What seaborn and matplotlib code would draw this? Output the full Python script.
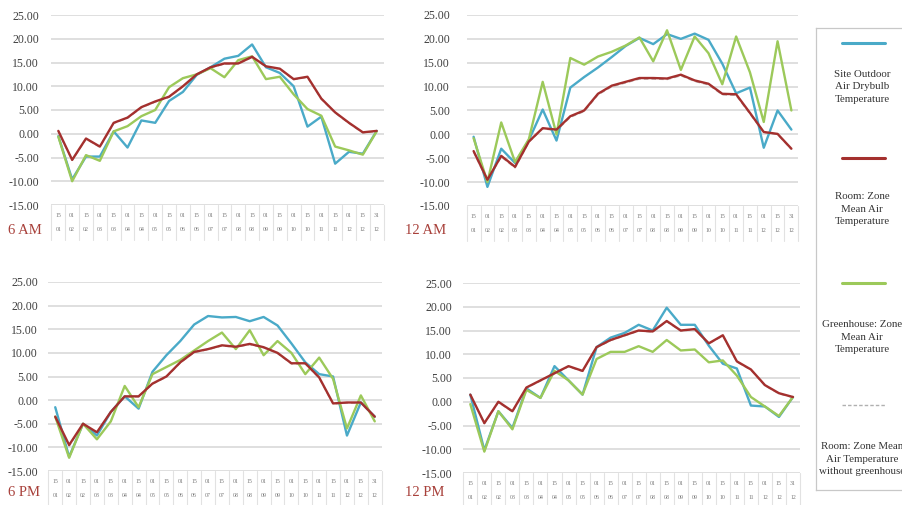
import matplotlib
matplotlib.use("Agg")
import matplotlib.pyplot as plt
import pandas as pd
import seaborn as sns

# Category axis: day / month of each sample
days = ["15", "01", "15", "01", "15", "01", "15", "01", "15", "01", "15", "01",
        "15", "01", "15", "01", "15", "01", "15", "01", "15", "01", "15", "31"]
months = ["01", "02", "02", "03", "03", "04", "04", "05", "05", "06", "06", "07",
          "07", "08", "08", "09", "09", "10", "10", "11", "11", "12", "12", "12"]

# 6 AM
outdoor_6am = [-0.5, -9.6, -4.8, -4.8, 0.5, -2.9, 2.8, 2.3, 6.9, 8.8, 12.4, 14.0,
               15.8, 16.4, 18.8, 14.0, 12.8, 10.0, 1.5, 3.6, -6.3, -3.8, -4.2, 0.6]
room_6am = [0.6, -5.5, -1.0, -2.7, 2.3, 3.4, 5.6, 6.8, 7.8, 10.0, 12.5, 14.0,
            14.8, 14.8, 16.2, 14.2, 13.7, 11.5, 12.0, 7.4, 4.5, 2.3, 0.3, 0.6]
greenhouse_6am = [-0.6, -10.0, -4.5, -5.7, 0.5, 1.6, 3.7, 5.0, 9.8, 11.7, 12.5, 13.8,
                  11.9, 15.5, 16.3, 11.5, 12.0, 8.3, 5.2, 3.8, -2.7, -3.5, -4.4, 0.5]
room_nogh_6am = [0.5, -5.6, -1.1, -2.8, 2.2, 3.3, 5.5, 6.7, 7.7, 9.9, 12.4, 13.9,
                 14.7, 14.7, 16.1, 14.1, 13.6, 11.4, 11.9, 7.3, 4.4, 2.2, 0.2, 0.5]

# 12 AM
outdoor_12am = [-0.5, -11.0, -3.0, -6.0, -1.2, 5.2, -1.3, 9.8, 12.0, 14.0, 16.2, 18.5,
                20.2, 18.9, 21.0, 20.0, 21.1, 19.8, 14.8, 8.6, 9.8, -2.8, 5.0, 1.0]
room_12am = [-3.5, -9.5, -4.5, -6.8, -1.5, 1.3, 1.0, 3.8, 5.0, 8.5, 10.2, 11.0,
             11.8, 11.8, 11.7, 12.5, 11.3, 10.6, 8.5, 8.4, 4.5, 0.5, 0.1, -3.0]
greenhouse_12am = [-0.8, -10.0, 2.5, -5.8, -1.0, 11.0, 0.0, 16.0, 14.6, 16.3, 17.3, 18.6,
                   20.3, 15.3, 21.8, 13.5, 20.5, 17.0, 10.5, 20.5, 13.0, 2.6, 19.5, 5.0]
room_nogh_12am = [-3.7, -9.7, -4.7, -7.0, -1.6, 1.2, 0.8, 3.6, 4.8, 8.3, 10.0, 10.8,
                  11.6, 11.6, 11.5, 12.3, 11.1, 10.4, 8.3, 8.2, 4.3, 0.4, 0.0, -3.1]

# 6 PM
outdoor_6pm = [-1.5, -12.0, -5.0, -7.5, -2.5, 0.8, -1.8, 6.0, 9.5, 12.5, 16.0, 17.8,
               17.5, 17.6, 16.7, 17.6, 15.8, 12.0, 8.0, 5.5, 5.0, -7.5, -0.5, -3.5]
room_6pm = [-3.5, -9.5, -5.0, -6.8, -2.5, 0.8, 0.8, 3.5, 5.0, 8.0, 10.2, 10.8,
            11.6, 11.3, 11.9, 11.2, 10.0, 7.8, 7.8, 4.8, -0.7, -0.5, -0.5, -3.5]
greenhouse_6pm = [-3.5, -12.2, -5.0, -8.3, -4.5, 3.0, -1.5, 5.5, 7.0, 8.5, 10.5, 12.5,
                  14.3, 10.8, 14.8, 9.5, 12.5, 10.0, 5.5, 9.0, 4.5, -6.0, 1.0, -4.5]
room_nogh_6pm = [-3.6, -9.7, -5.1, -6.9, -2.6, 0.7, 0.7, 3.4, 4.9, 7.9, 10.1, 10.7,
                 11.5, 11.2, 11.8, 11.1, 9.9, 7.7, 7.7, 4.7, -0.8, -0.6, -0.6, -3.6]

# 12 PM
outdoor_12pm = [1.5, -10.2, -2.0, -5.5, 2.8, 0.8, 7.5, 4.5, 1.5, 11.5, 13.5, 14.5,
                16.2, 15.0, 19.8, 16.2, 16.2, 11.8, 8.0, 7.0, -0.8, -1.0, -3.2, 1.0]
room_12pm = [1.5, -4.5, 0.0, -2.0, 3.0, 4.5, 6.0, 7.5, 6.5, 11.5, 13.0, 14.0,
             15.0, 14.8, 17.0, 15.0, 15.3, 12.3, 14.0, 8.5, 6.8, 3.5, 1.8, 1.0]
greenhouse_12pm = [-0.5, -10.5, -2.0, -5.8, 2.5, 0.8, 6.5, 4.5, 1.5, 9.0, 10.5, 10.5,
                   11.7, 10.5, 13.0, 10.8, 11.0, 8.3, 8.7, 5.5, 1.0, -1.0, -3.0, 1.0]
room_nogh_12pm = [1.4, -4.6, -0.1, -2.1, 2.9, 4.4, 5.9, 7.4, 6.4, 11.4, 12.9, 13.9,
                  14.9, 14.7, 16.9, 14.9, 15.2, 12.2, 13.9, 8.4, 6.7, 3.4, 1.7, 0.9]

series_names = ["Site Outdoor Air Drybulb Temperature",
                "Room: Zone Mean Air Temperature",
                "Greenhouse: Zone Mean Air Temperature",
                "Room: Zone Mean Air Temperature without greenhouse"]
legend_labels = ["Site Outdoor\nAir Drybulb\nTemperature",
                 "Room: Zone\nMean Air\nTemperature",
                 "Greenhouse: Zone\nMean Air\nTemperature",
                 "Room: Zone Mean\nAir Temperature\nwithout greenhouse"]
colors = {series_names[0]: "#4aaac8",
          series_names[1]: "#a4302e",
          series_names[2]: "#9cc95a",
          series_names[3]: "#b9a7a7"}

panels = [
    ("6 AM", outdoor_6am, room_6am, greenhouse_6am, room_nogh_6am),
    ("12 AM", outdoor_12am, room_12am, greenhouse_12am, room_nogh_12am),
    ("6 PM", outdoor_6pm, room_6pm, greenhouse_6pm, room_nogh_6pm),
    ("12 PM", outdoor_12pm, room_12pm, greenhouse_12pm, room_nogh_12pm),
]

sns.set_theme(style="white")
plt.rcParams["font.family"] = ["Liberation Serif", "DejaVu Serif"]
plt.rcParams["axes.unicode_minus"] = False

W, H = 902, 505
fig = plt.figure(figsize=(W / 100, H / 100), dpi=100)

# panel boxes in pixels: left, right, top (25), bottom (-15), y-label pad, title position
boxes = [
    (51.4, 383.6, 15, 205, 9, (8, 230)),
    (466.7, 798.3, 15, 206, 12, (405, 230)),
    (48.3, 381.7, 282, 471, 7.5, (8, 492)),
    (463.3, 800.0, 283, 473, 8, (405, 492)),
]

grid_color = "#d9d9d9"
yticks = [-15, -10, -5, 0, 5, 10, 15, 20, 25]
xlabels = [f"{d}\n{m}" for d, m in zip(days, months)]

for (title, outdoor, room, greenhouse, room_nogh), box in zip(panels, boxes):
    left, right, top, bottom, pad, (tx, ty) = box
    ax = fig.add_axes([left / W, 1 - bottom / H, (right - left) / W, (bottom - top) / H])
    n = len(outdoor)
    df = pd.DataFrame({
        "idx": list(range(n)) * 4,
        "value": outdoor + room + greenhouse + room_nogh,
        "series": sum([[s] * n for s in series_names], []),
    })
    for y in yticks:
        ax.axhline(y, color=grid_color, lw=1.2, zorder=0)
    sns.lineplot(data=df[df.series == series_names[3]], x="idx", y="value",
                 color=colors[series_names[3]], lw=1.1, linestyle=(0, (3, 2)),
                 ax=ax, legend=False, zorder=2)
    for s, z in [(series_names[0], 3), (series_names[2], 4), (series_names[1], 5)]:
        sns.lineplot(data=df[df.series == s], x="idx", y="value", color=colors[s],
                     lw=1.7, ax=ax, legend=False, zorder=z)
    ax.set_xlim(-0.5, n - 0.5)
    ax.set_ylim(-15, 25)
    ax.set_yticks(yticks)
    ax.set_yticklabels([f"{v:.2f}" for v in yticks])
    ax.set_xticks(range(n))
    ax.set_xticklabels(xlabels)
    for lab in ax.get_xticklabels():
        lab.set_linespacing(3.1)
    ax.tick_params(axis="x", length=0, pad=6, labelsize=4.2, labelcolor="#777777")
    ax.tick_params(axis="y", length=0, pad=pad, labelsize=8.5, labelcolor="#404040")
    ax.set_xlabel("")
    ax.set_ylabel("")
    for sp in ax.spines.values():
        sp.set_visible(False)
    # category table under the plot
    tbl_h = 35 / (bottom - top)
    xt = ax.get_xaxis_transform()
    for k in range(n + 1):
        ax.plot([k - 0.5, k - 0.5], [0, -tbl_h], transform=xt, color="#e2e2e2",
                lw=0.8, clip_on=False, zorder=1)
    fig.text(tx / W, 1 - ty / H, title, ha="left", va="center", fontsize=10.5,
             color="#a8403a")

# legend panel on the right
lax = fig.add_axes([816 / W, 1 - 490 / H, 100 / W, 462 / H])
lax.set_xlim(816, 916)
lax.set_ylim(490, 28)
lax.set_xticks([])
lax.set_yticks([])
lax.set_facecolor("white")
for sp in lax.spines.values():
    sp.set_color("#c8c8c8")
    sp.set_linewidth(0.9)
entries = [(43, 87), (158, 209), (283, 337), (405, 459)]
for s, lab, (ly, tyy) in zip(series_names, legend_labels, entries):
    if s == series_names[3]:
        lax.plot([842, 885], [ly, ly], color="#b0b0b0", lw=1.0, linestyle=(0, (2.5, 1.5)))
    else:
        lax.plot([842, 885], [ly, ly], color=colors[s], lw=2.2)
    lax.text(862, tyy, lab, ha="center", va="center", fontsize=7.8, color="#333333",
             linespacing=1.55)

fig.savefig("out.png", dpi=100, facecolor="white")
